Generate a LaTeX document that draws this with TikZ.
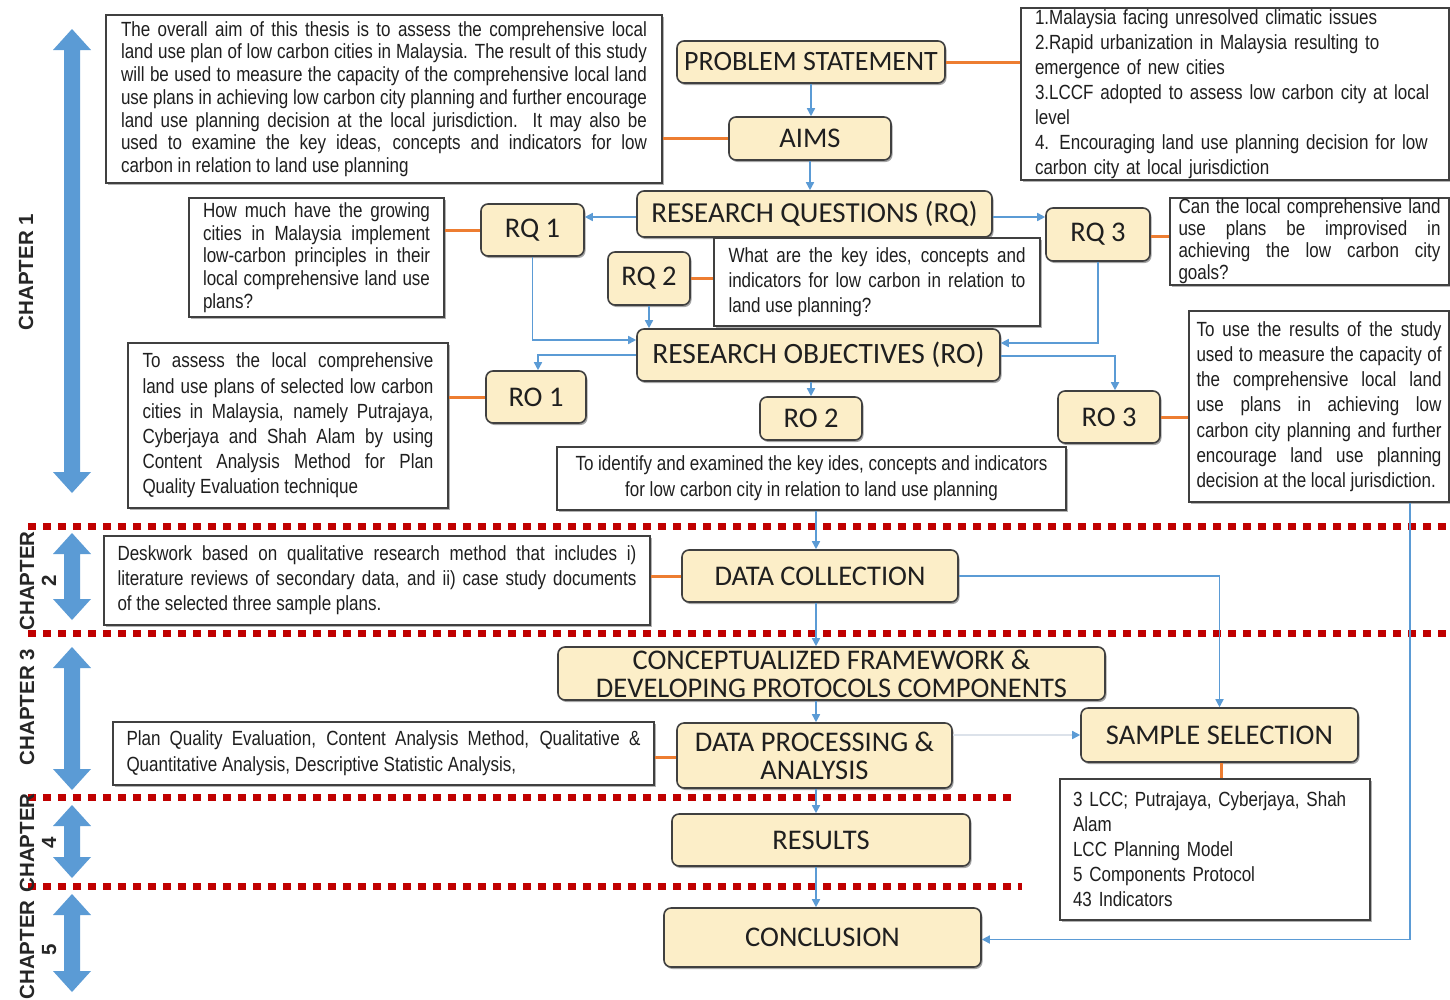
\documentclass[tikz,border=0pt]{standalone}
\usepackage{fontspec}
\setmainfont{Liberation Sans}
\newfontfamily\labfont{Carlito}
\newfontfamily\narrowfont[FakeStretch=0.83]{Liberation Sans}
\usetikzlibrary{arrows.meta,shadows}
\definecolor{beige}{HTML}{FCEEC8}
\definecolor{nodeline}{HTML}{404040}
\definecolor{linkblue}{HTML}{5B9BD5}
\definecolor{linkorange}{HTML}{ED7D31}
\definecolor{chapblue}{HTML}{5B9BD5}
\definecolor{dotred}{HTML}{C00000}
\definecolor{txt}{HTML}{1F1F1F}
\definecolor{palelink}{HTML}{DCE2EA}
\tikzset{
 stage/.style={draw=nodeline, line width=1.6pt, fill=beige, rounded corners=7pt, inner sep=0pt,
   text=txt, font=\labfont\fontsize{28.5}{28}\selectfont, align=center,
   drop shadow={shadow xshift=1.5pt, shadow yshift=-2pt, fill=black, opacity=0.35}},
 tbox/.style={draw=nodeline, line width=1.2pt, fill=white, inner ysep=0pt, text=txt,
   font=\narrowfont\fontsize{20.5}{#1}\selectfont, align=justify,
   drop shadow={shadow xshift=1.5pt, shadow yshift=-1.5pt, fill=black, opacity=0.3}},
 conn/.style={draw=linkblue, line width=1.6pt, -{Triangle[length=8pt,width=8pt]}},
 tie/.style={draw=linkorange, line width=3pt},
 sepline/.style={draw=dotred, line width=7pt, dash pattern=on 7.5pt off 7.5pt},
 chaplab/.style={rotate=90, font=\bfseries\fontsize{20.5}{22}\selectfont, text=black!85, align=center, inner sep=0pt},
}
\newcommand\chaparrow[2]{%
 \fill[chapblue] (72,#1) -- (91,{#1+21}) -- (80,{#1+21}) -- (80,{#2-21}) -- (91,{#2-21}) -- (72,#2)
   -- (53,{#2-21}) -- (64,{#2-21}) -- (64,{#1+21}) -- (53,{#1+21}) -- cycle;}
\begin{document}
\begin{tikzpicture}[x=1pt,y=-1pt]
\useasboundingbox (0,0) rectangle (1450,999);
\fill[white] (0,0) rectangle (1450,999);

% separators
\draw[sepline] (28,526) -- (1450,526);
\draw[sepline] (28,633) -- (1450,633);
\draw[sepline] (28,797) -- (1014,797);
\draw[sepline] (28,886) -- (1022,886);

% chapter arrows and labels
\chaparrow{29}{493}
\chaparrow{533}{620}
\chaparrow{647}{790}
\chaparrow{805}{878}
\chaparrow{894}{992}
\node[chaplab] (ch1) at (26,272) {CHAPTER 1};
\node[chaplab] (ch2) at (38,581) {CHAPTER\\2};
\node[chaplab] (ch3) at (27,707) {CHAPTER 3};
\node[chaplab] (ch4) at (38,843) {CHAPTER\\4};
\node[chaplab] (ch5) at (38,950) {CHAPTER\\5};

% stage nodes
\node[stage, minimum width=268pt, minimum height=42pt, font=\labfont\fontsize{28}{28}\selectfont] (ps) at (811,62) {PROBLEM STATEMENT};
\node[stage, minimum width=162pt, minimum height=43pt] (aims) at (810,138.5) {AIMS};
\node[stage, minimum width=355pt, minimum height=46pt, font=\labfont\fontsize{29}{28}\selectfont] (rq) at (814.5,214) {RESEARCH QUESTIONS (RQ)};
\node[stage, minimum width=103pt, minimum height=52pt] (rq1) at (532.5,230) {RQ 1};
\node[stage, minimum width=82pt, minimum height=53pt] (rq2) at (649,278.5) {RQ 2};
\node[stage, minimum width=104pt, minimum height=53pt] (rq3) at (1098,234.5) {RQ 3};
\node[stage, minimum width=363pt, minimum height=52pt, font=\labfont\fontsize{29.5}{28}\selectfont] (ro) at (818.5,355) {RESEARCH OBJECTIVES (RO)};
\node[stage, minimum width=100pt, minimum height=52pt] (ro1) at (536,397) {RO 1};
\node[stage, minimum width=102pt, minimum height=43pt] (ro2) at (811,418.5) {RO 2};
\node[stage, minimum width=102pt, minimum height=52pt] (ro3) at (1109,417) {RO 3};
\node[stage, minimum width=276pt, minimum height=52pt] (dc) at (820,576) {DATA COLLECTION};
\node[stage, minimum width=547pt, minimum height=53pt] (cf) at (831.5,673.5) {CONCEPTUALIZED FRAMEWORK \&\\DEVELOPING PROTOCOLS COMPONENTS};
\node[stage, minimum width=275pt, minimum height=65pt] (dp) at (814.5,755.5) {DATA PROCESSING \&\\ANALYSIS};
\node[stage, minimum width=277pt, minimum height=54pt] (ss) at (1219.5,735) {SAMPLE SELECTION};
\node[stage, minimum width=298pt, minimum height=52pt] (res) at (821,840) {RESULTS};
\node[stage, minimum width=317pt, minimum height=59pt] (con) at (822.5,937.5) {CONCLUSION};

% text boxes
\node[tbox=22.7, text width=526pt, inner xsep=15pt, minimum height=168pt] (aimt) at (384,99)
 {The overall aim of this thesis is to assess the comprehensive local\linebreak
  land use plan of low carbon cities in Malaysia. The result of this study\linebreak
  will be used to measure the capacity of the comprehensive local land\linebreak
  use plans in achieving low carbon city planning and further encourage\linebreak
  land use planning decision at the local jurisdiction. It may also be\linebreak
  used to examine the key ideas, concepts and indicators for low\linebreak
  carbon in relation to land use planning};
\node[tbox=25.1, align=left, text width=400pt, inner xsep=14pt, minimum height=172pt] (plt) at (1235,94)
 {1.Malaysia facing unresolved climatic issues\\
  2.Rapid urbanization in Malaysia resulting to\\
  emergence of new cities\\
  3.LCCF adopted to assess low carbon city at local\\
  level\\
  4. Encouraging land use planning decision for low\\
  carbon city at local jurisdiction};
\node[tbox=22.8, text width=227pt, inner xsep=14pt, minimum height=119pt] (rq1t) at (316.5,257.5)
 {How much have the growing\linebreak
  cities in Malaysia implement\linebreak
  low-carbon principles in their\linebreak
  local comprehensive land use\linebreak
  plans?};
\node[tbox=25, text width=297pt, inner xsep=14.5pt, minimum height=88pt] (rq2t) at (877,282)
 {What are the key ides, concepts and\linebreak
  indicators for low carbon in relation to\linebreak
  land use planning?};
\node[tbox=22, text width=262pt, inner xsep=8.5pt, minimum height=87pt] (rq3t) at (1309.5,241.5)
 {Can the local comprehensive land\linebreak
  use plans be improvised in\linebreak
  achieving the low carbon city\linebreak
  goals?};
\node[tbox=25.2, text width=291pt, inner xsep=14.5pt, minimum height=165pt] (ro1t) at (288,425.5)
 {To assess the local comprehensive\linebreak
  land use plans of selected low carbon\linebreak
  cities in Malaysia, namely Putrajaya,\linebreak
  Cyberjaya and Shah Alam by using\linebreak
  Content Analysis Method for Plan\linebreak
  Quality Evaluation technique};
\node[tbox=26, align=center, minimum width=509pt, minimum height=63pt] (ro2t) at (811.5,478.5)
 {To identify and examined the key ides, concepts and indicators\\
  for low carbon city in relation to land use planning};
\node[tbox=25.2, text width=245pt, inner xsep=7.5pt, minimum height=191pt] (ro3t) at (1319,406.5)
 {To use the results of the study\linebreak
  used to measure the capacity of\linebreak
  the comprehensive local land\linebreak
  use plans in achieving low\linebreak
  carbon city planning and further\linebreak
  encourage land use planning\linebreak
  decision at the local jurisdiction.};
\node[tbox=25, text width=519pt, inner xsep=13.5pt, minimum height=89pt] (dct) at (377,580.5)
 {Deskwork based on qualitative research method that includes i)\linebreak
  literature reviews of secondary data, and ii) case study documents\linebreak
  of the selected three sample plans.};
\node[tbox=26, text width=514pt, inner xsep=13.5pt, minimum height=63pt] (dpt) at (383.5,753.5)
 {Plan Quality Evaluation, Content Analysis Method, Qualitative \&\linebreak
  Quantitative Analysis, Descriptive Statistic Analysis,};
\node[tbox=25, align=left, text width=284pt, inner xsep=13pt, minimum height=141pt] (sst) at (1215,849.5)
 {3 LCC; Putrajaya, Cyberjaya, Shah\\
  Alam\\
  LCC Planning Model\\
  5 Components Protocol\\
  43 Indicators};

% orange ties
\draw[tie] (ps.east) -- (ps.east -| plt.west);
\draw[tie] (aims.west -| aimt.east) -- (aims.west);
\draw[tie] (rq1.west -| rq1t.east) -- (rq1.west);
\draw[tie] (rq2.east) -- (rq2.east -| rq2t.west);
\draw[tie] ([yshift=-2pt]rq3.east) -- ([yshift=-2pt]rq3.east -| rq3t.west);
\draw[tie] (ro1.west -| ro1t.east) -- (ro1.west);
\draw[tie] (ro3.east) -- (ro3.east -| ro3t.west);
\draw[tie] (dc.west -| dct.east) -- (dc.west);
\draw[tie] ([yshift=-1.5pt]dp.west -| dpt.east) -- ([yshift=-1.5pt]dp.west);
\draw[tie] ([xshift=2pt]ss.south) -- ([xshift=2pt]ss.south |- sst.north);

% blue connectors
\coordinate (spine) at (816,0);
\draw[conn] (ps.south) -- (ps.south |- aims.north);
\draw[conn] (aims.south) -- (aims.south |- rq.north);
\draw[conn] ([yshift=-3pt]rq.west) -- ([yshift=-3pt]rq.west -| rq1.east);
\draw[conn] ([yshift=-3pt]rq.east) -- ([yshift=-3pt]rq.east -| rq3.west);
\draw[conn] (rq1.south) |- ([yshift=15pt]ro.west);
\draw[conn] (rq2.south) -- (rq2.south |- ro.north);
\draw[conn] (rq3.south) |- ([yshift=12pt]ro.east);
\draw[conn] (ro.west) -| ([xshift=2pt]ro1.north);
\draw[conn] (ro.south -| ro2.north) -- (ro2.north);
\draw[conn] ([yshift=-1pt]ro.east) -| ([xshift=6pt]ro3.north);
\draw[conn] (ro2t.south -| spine) -- (dc.north -| spine);
\draw[conn] (dc.east) -| (ss.north);
\draw[conn] (dc.south -| spine) -- (cf.north -| spine);
\draw[conn] (cf.south -| spine) -- (dp.north -| spine);
\draw[conn] (dp.south -| spine) -- (res.north -| spine);
\draw[conn] (res.south -| spine) -- (con.north -| spine);
\draw[draw=palelink, line width=1.6pt, -{Triangle[length=8pt,width=8pt,color=linkblue]}] (ss.west -| dp.east) -- (ss.west);
\draw[conn] ([xshift=91pt]ro3t.south) |- ([yshift=-2pt]con.east);
\end{tikzpicture}
\end{document}
